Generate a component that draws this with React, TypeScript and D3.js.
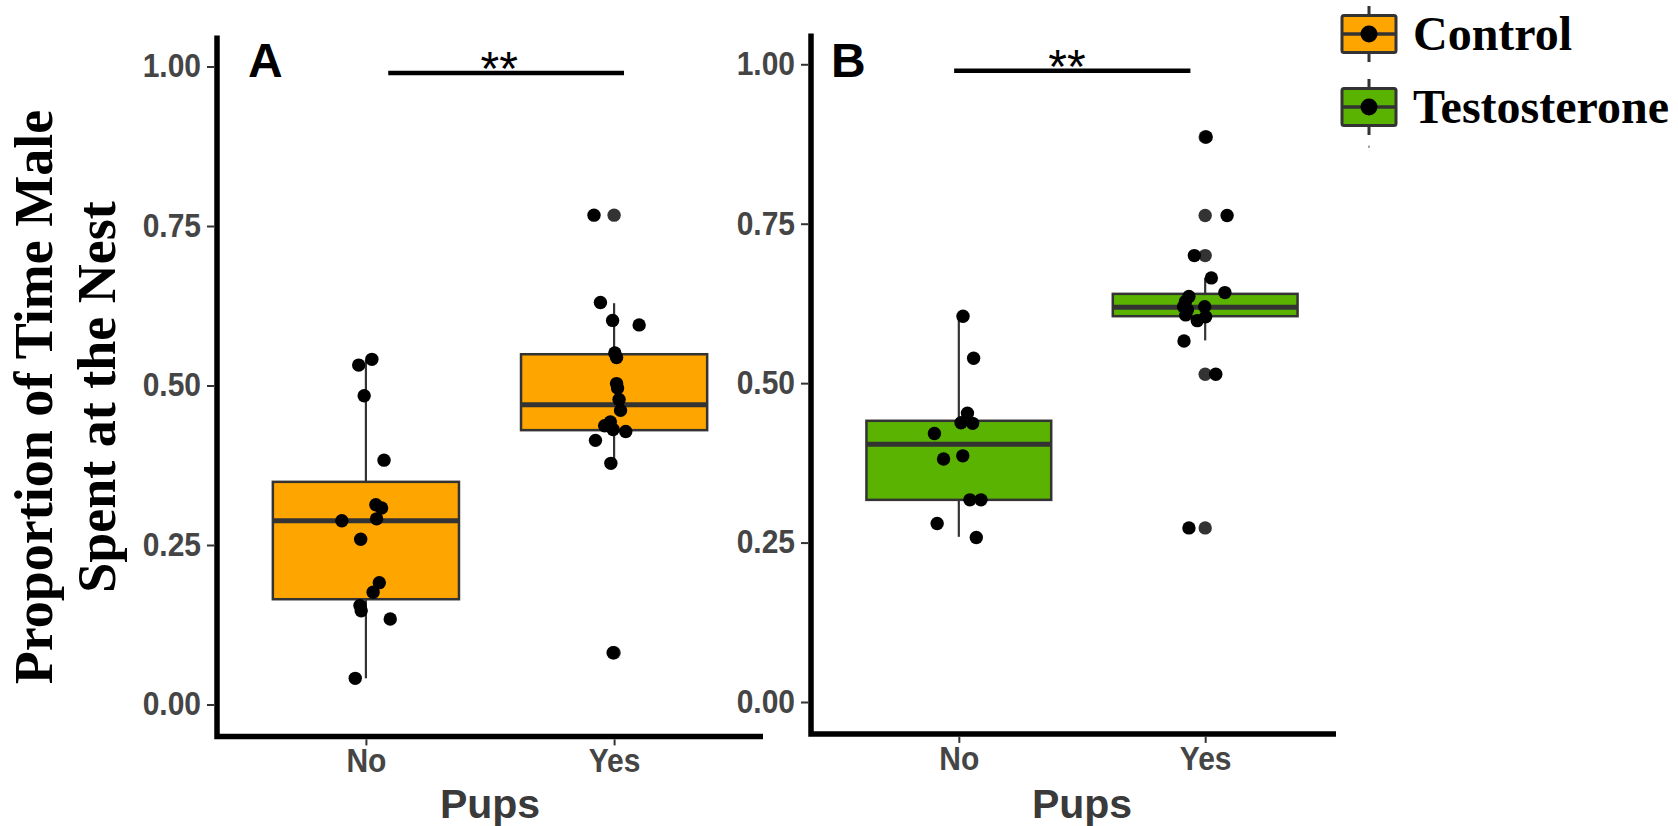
import React, { useRef, useEffect } from "react";
import * as d3 from "d3";

// categories and tick values
const categories = ["No", "Yes"];
const yTicks = [0, 0.25, 0.5, 0.75, 1];
const groups = ["Control", "Testosterone"];
const groupColors = ["#FFA500", "#5AB300"];

// box stats: [lower whisker, q1, median, q3, upper whisker]
const controlBoxNo = [0.041, 0.165, 0.288, 0.349, 0.540];
const controlBoxYes = [0.378, 0.430, 0.470, 0.549, 0.629];
const testoBoxNo = [0.259, 0.317, 0.404, 0.441, 0.606];
const testoBoxYes = [0.567, 0.605, 0.619, 0.640, 0.665];

// boxplot outliers
const controlOutNo: number[] = [];
const controlOutYes = [0.767, 0.081];
const testoOutNo: number[] = [];
const testoOutYes = [0.886, 0.763, 0.70, 0.514, 0.273];

// jittered raw points (value + horizontal jitter in category units)
const controlNoValues = [0.532, 0.541, 0.484, 0.383, 0.313, 0.308, 0.291, 0.288, 0.259, 0.191, 0.176, 0.155, 0.147, 0.134, 0.041];
const controlNoJitter = [-0.029, 0.024, -0.007, 0.073, 0.040, 0.063, 0.043, -0.097, -0.021, 0.054, 0.029, -0.024, -0.019, 0.098, -0.043];
const controlYesValues = [0.767, 0.630, 0.602, 0.595, 0.551, 0.544, 0.503, 0.496, 0.478, 0.461, 0.443, 0.437, 0.431, 0.428, 0.414, 0.378, 0.081];
const controlYesJitter = [-0.081, -0.055, -0.006, 0.101, 0.003, 0.010, 0.010, 0.014, 0.020, 0.026, -0.015, -0.038, -0.004, 0.047, -0.075, -0.013, -0.004];
const testoNoValues = [0.605, 0.539, 0.453, 0.438, 0.437, 0.421, 0.381, 0.386, 0.317, 0.317, 0.280, 0.258];
const testoNoJitter = [0.017, 0.060, 0.035, 0.009, 0.056, -0.099, -0.062, 0.016, 0.045, 0.090, -0.088, 0.071];
const testoYesValues = [0.886, 0.763, 0.700, 0.665, 0.642, 0.636, 0.628, 0.620, 0.615, 0.620, 0.607, 0.604, 0.598, 0.566, 0.514, 0.273];
const testoYesJitter = [0.004, 0.089, -0.044, 0.025, 0.080, -0.066, -0.080, -0.088, -0.072, -0.002, -0.079, 0.002, -0.032, -0.086, 0.043, -0.066];

const App = () => {
    const svgRef = useRef<SVGSVGElement>(null);

    useEffect(() => {
        const svg = d3.select(svgRef.current);
        svg.selectAll("*").remove();

        const sans = "'Liberation Sans', Arial, sans-serif";
        const serif = "'Liberation Serif', 'Times New Roman', serif";
        const dark = "#333333";

        const panels = [
            {
                label: "A", labelX: 0.525, fill: groupColors[0],
                x0: 217, x1: 763, yBottom: 736.4, yTop: 34.6,
                boxes: [controlBoxNo, controlBoxYes],
                outliers: [controlOutNo, controlOutYes],
                values: [controlNoValues, controlYesValues],
                jitter: [controlNoJitter, controlYesJitter],
                bar: [1.09, 2.04], starX: 1.537,
            },
            {
                label: "B", labelX: 0.481, fill: groupColors[1],
                x0: 811, x1: 1353, yBottom: 733.9, yTop: 32.4,
                boxes: [testoBoxNo, testoBoxYes],
                outliers: [testoOutNo, testoOutYes],
                values: [testoNoValues, testoYesValues],
                jitter: [testoNoJitter, testoYesJitter],
                bar: [0.981, 1.94], starX: 1.439,
            },
        ];

        panels.forEach((p) => {
            const x = d3.scaleLinear().domain([0.4, 2.6]).range([p.x0, p.x1]);
            const y = d3.scaleLinear().domain([-0.05, 1.05]).range([p.yBottom, p.yTop]);
            const g = svg.append("g");
            const half = 0.375;

            // boxes
            p.boxes.forEach((b, i) => {
                const c = i + 1;
                g.append("line")
                    .attr("x1", x(c)).attr("x2", x(c))
                    .attr("y1", y(b[4])).attr("y2", y(b[3]))
                    .attr("stroke", dark).attr("stroke-width", 2.2);
                g.append("line")
                    .attr("x1", x(c)).attr("x2", x(c))
                    .attr("y1", y(b[1])).attr("y2", y(b[0]))
                    .attr("stroke", dark).attr("stroke-width", 2.2);
                g.append("rect")
                    .attr("x", x(c - half))
                    .attr("y", y(b[3]))
                    .attr("width", x(c + half) - x(c - half))
                    .attr("height", y(b[1]) - y(b[3]))
                    .attr("fill", p.fill)
                    .attr("stroke", dark)
                    .attr("stroke-width", 2.5);
                g.append("line")
                    .attr("x1", x(c - half)).attr("x2", x(c + half))
                    .attr("y1", y(b[2])).attr("y2", y(b[2]))
                    .attr("stroke", dark).attr("stroke-width", 5);

                g.selectAll(null)
                    .data(p.outliers[i])
                    .enter()
                    .append("circle")
                    .attr("cx", x(c))
                    .attr("cy", (d) => y(d))
                    .attr("r", 6.7)
                    .attr("fill", dark);
            });

            // jittered points
            p.values.forEach((vals, i) => {
                const c = i + 1;
                g.selectAll(null)
                    .data(vals)
                    .enter()
                    .append("circle")
                    .attr("cx", (d, j) => x(c + p.jitter[i][j]))
                    .attr("cy", (d) => y(d))
                    .attr("r", 6.7)
                    .attr("fill", "black");
            });

            // y axis
            const yAxis = g.append("g")
                .attr("transform", `translate(${p.x0 - 3},0)`)
                .call(d3.axisLeft(y).tickValues(yTicks).tickFormat(d3.format(".2f")).tickSize(7).tickPadding(6));
            yAxis.select(".domain").remove();
            yAxis.selectAll("line").attr("stroke", dark).attr("stroke-width", 2);
            yAxis.selectAll("text")
                .attr("fill", "#454545")
                .attr("transform", "scale(1,1.08)")
                .style("font-family", sans)
                .style("font-size", "30px")
                .style("font-weight", "bold");

            // x axis
            const xAxis = g.append("g")
                .attr("transform", `translate(0,${p.yBottom + 3})`)
                .call(d3.axisBottom(x).tickValues([1, 2]).tickFormat((d) => categories[+d - 1]).tickSize(6).tickPadding(3));
            xAxis.select(".domain").remove();
            xAxis.selectAll("line").attr("stroke", dark).attr("stroke-width", 2);
            xAxis.selectAll("text")
                .attr("fill", "#454545")
                .attr("transform", "scale(1,1.08)")
                .style("font-family", sans)
                .style("font-size", "30px")
                .style("font-weight", "bold");

            // thick axis lines
            g.append("path")
                .attr("d", `M${p.x0},${p.yTop + 1} L${p.x0},${p.yBottom} L${p.x1},${p.yBottom}`)
                .attr("fill", "none")
                .attr("stroke", "black")
                .attr("stroke-width", 5.5);

            g.append("text")
                .attr("x", (p.x0 + p.x1) / 2)
                .attr("y", 818)
                .attr("text-anchor", "middle")
                .attr("fill", "#3a3a3a")
                .style("font-family", sans)
                .style("font-size", "41px")
                .style("font-weight", "bold")
                .text("Pups");

            // panel letter
            g.append("text")
                .attr("x", x(p.labelX))
                .attr("y", 76.5)
                .attr("fill", "black")
                .style("font-family", sans)
                .style("font-size", "48px")
                .style("font-weight", "bold")
                .text(p.label);

            // significance bar
            g.append("line")
                .attr("x1", x(p.bar[0])).attr("x2", x(p.bar[1]))
                .attr("y1", y(0.99)).attr("y2", y(0.99))
                .attr("stroke", "black").attr("stroke-width", 4.5);
            g.append("text")
                .attr("x", x(p.starX))
                .attr("y", y(0.99) + 12)
                .attr("text-anchor", "middle")
                .attr("fill", "black")
                .style("font-family", sans)
                .style("font-size", "48px")
                .text("**");
        });

        // y axis title
        const yTitle = ["Proportion of Time Male", "Spent at the Nest"];
        yTitle.forEach((t, i) => {
            svg.append("text")
                .attr("transform", `translate(${51.7 + i * 63.3},397) rotate(-90)`)
                .attr("text-anchor", "middle")
                .attr("fill", "black")
                .style("font-family", serif)
                .style("font-size", "54px")
                .style("font-weight", "bold")
                .text(t);
        });

        // legend
        const legend = svg.append("g");
        legend.append("rect")
            .attr("x", 1336).attr("y", 0)
            .attr("width", 342).attr("height", 826)
            .attr("fill", "white");

        const keyCenters = [34, 107];
        groups.forEach((name, i) => {
            const cy = keyCenters[i];
            const cx = 1369;
            legend.append("line")
                .attr("x1", cx).attr("x2", cx)
                .attr("y1", cy - 28).attr("y2", cy + 28)
                .attr("stroke", dark).attr("stroke-width", 3);
            legend.append("rect")
                .attr("x", cx - 27).attr("y", cy - 18.5)
                .attr("width", 54).attr("height", 37)
                .attr("rx", 2)
                .attr("fill", groupColors[i])
                .attr("stroke", dark)
                .attr("stroke-width", 3);
            legend.append("line")
                .attr("x1", cx - 27).attr("x2", cx + 27)
                .attr("y1", cy).attr("y2", cy)
                .attr("stroke", dark).attr("stroke-width", 3.5);
            legend.append("circle")
                .attr("cx", cx).attr("cy", cy)
                .attr("r", 8.5)
                .attr("fill", "black");
            legend.append("text")
                .attr("x", 1413)
                .attr("y", cy + 15.5)
                .attr("fill", "black")
                .style("font-family", serif)
                .style("font-size", "48px")
                .style("font-weight", "bold")
                .text(name);
        });
        // small stray tick under the last key
        legend.append("line")
            .attr("x1", 1369).attr("x2", 1369)
            .attr("y1", 145.5).attr("y2", 148)
            .attr("stroke", "#888").attr("stroke-width", 1.5);
    }, []);

    return (
        <svg
            ref={svgRef}
            width={1678}
            height={826}
            style={{ position: "absolute", left: 0, top: 0, background: "white" }}
        />
    );
};

export default App;
